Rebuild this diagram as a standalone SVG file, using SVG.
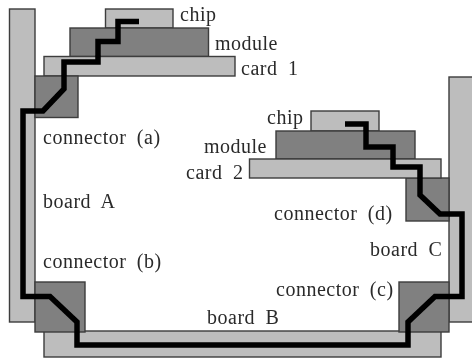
<svg xmlns="http://www.w3.org/2000/svg" width="472" height="361" viewBox="0 0 472 361">
<style>
.l{fill:#bdbdbd;stroke:#3c3c3c;stroke-width:1.4}
.d{fill:#808080;stroke:#3c3c3c;stroke-width:1.4}
.w{fill:none;stroke:#000;stroke-width:5.5;stroke-linejoin:miter}
text{font-family:"Liberation Serif","Times New Roman",serif;font-size:20px;fill:#2a2a2a;word-spacing:5px;letter-spacing:.5px}
</style>
<defs><filter id="b" x="-2%" y="-2%" width="104%" height="104%"><feGaussianBlur stdDeviation="0.4"/></filter></defs>
<rect width="472" height="361" fill="#fff"/>
<g filter="url(#b)">
<g id="board-a"><rect class="l" x="9.5" y="9" width="25.5" height="313"/><text x="43" y="208">board A</text></g>
<g id="board-b"><rect class="l" x="44" y="331" width="397" height="26"/><text x="207" y="324">board B</text></g>
<g id="board-c"><rect class="l" x="449" y="77" width="30" height="245"/><text x="370" y="256">board C</text></g>
<g id="chip-1"><rect class="l" x="105.5" y="9" width="67.5" height="19"/><text x="180" y="21">chip</text></g>
<g id="module-1"><rect class="d" x="70" y="28" width="138.5" height="28.5"/><text x="215" y="50">module</text></g>
<g id="card-1"><rect class="l" x="44" y="56.5" width="191" height="19.5"/><text x="241" y="75">card 1</text></g>
<g id="connector-a"><rect class="d" x="35" y="76" width="43" height="41.5"/><text x="43" y="144">connector (a)</text></g>
<g id="connector-b"><rect class="d" x="35" y="282" width="50" height="50"/><text x="43" y="268">connector (b)</text></g>
<g id="connector-c"><rect class="d" x="399" y="282" width="50" height="50"/><text x="276" y="296">connector (c)</text></g>
<g id="connector-d"><rect class="d" x="406" y="178" width="43" height="43"/><text x="274" y="220">connector (d)</text></g>
<g id="chip-2"><rect class="l" x="311" y="111" width="68" height="20"/><text x="267" y="124">chip</text></g>
<g id="module-2"><rect class="d" x="276" y="131" width="139" height="28"/><text x="204" y="153">module</text></g>
<g id="card-2"><rect class="l" x="249.5" y="159" width="191.5" height="19"/><text x="186" y="179">card 2</text></g>
<g id="connectors"><path class="w" d="M139 21.5H118V41.5H98V62H64V89L43 111H23V296.5H50L77 322V345H408V322L435 296.5H462V214H440L420 195V167H393V147H366V124H345"/></g>
</g>
</svg>
